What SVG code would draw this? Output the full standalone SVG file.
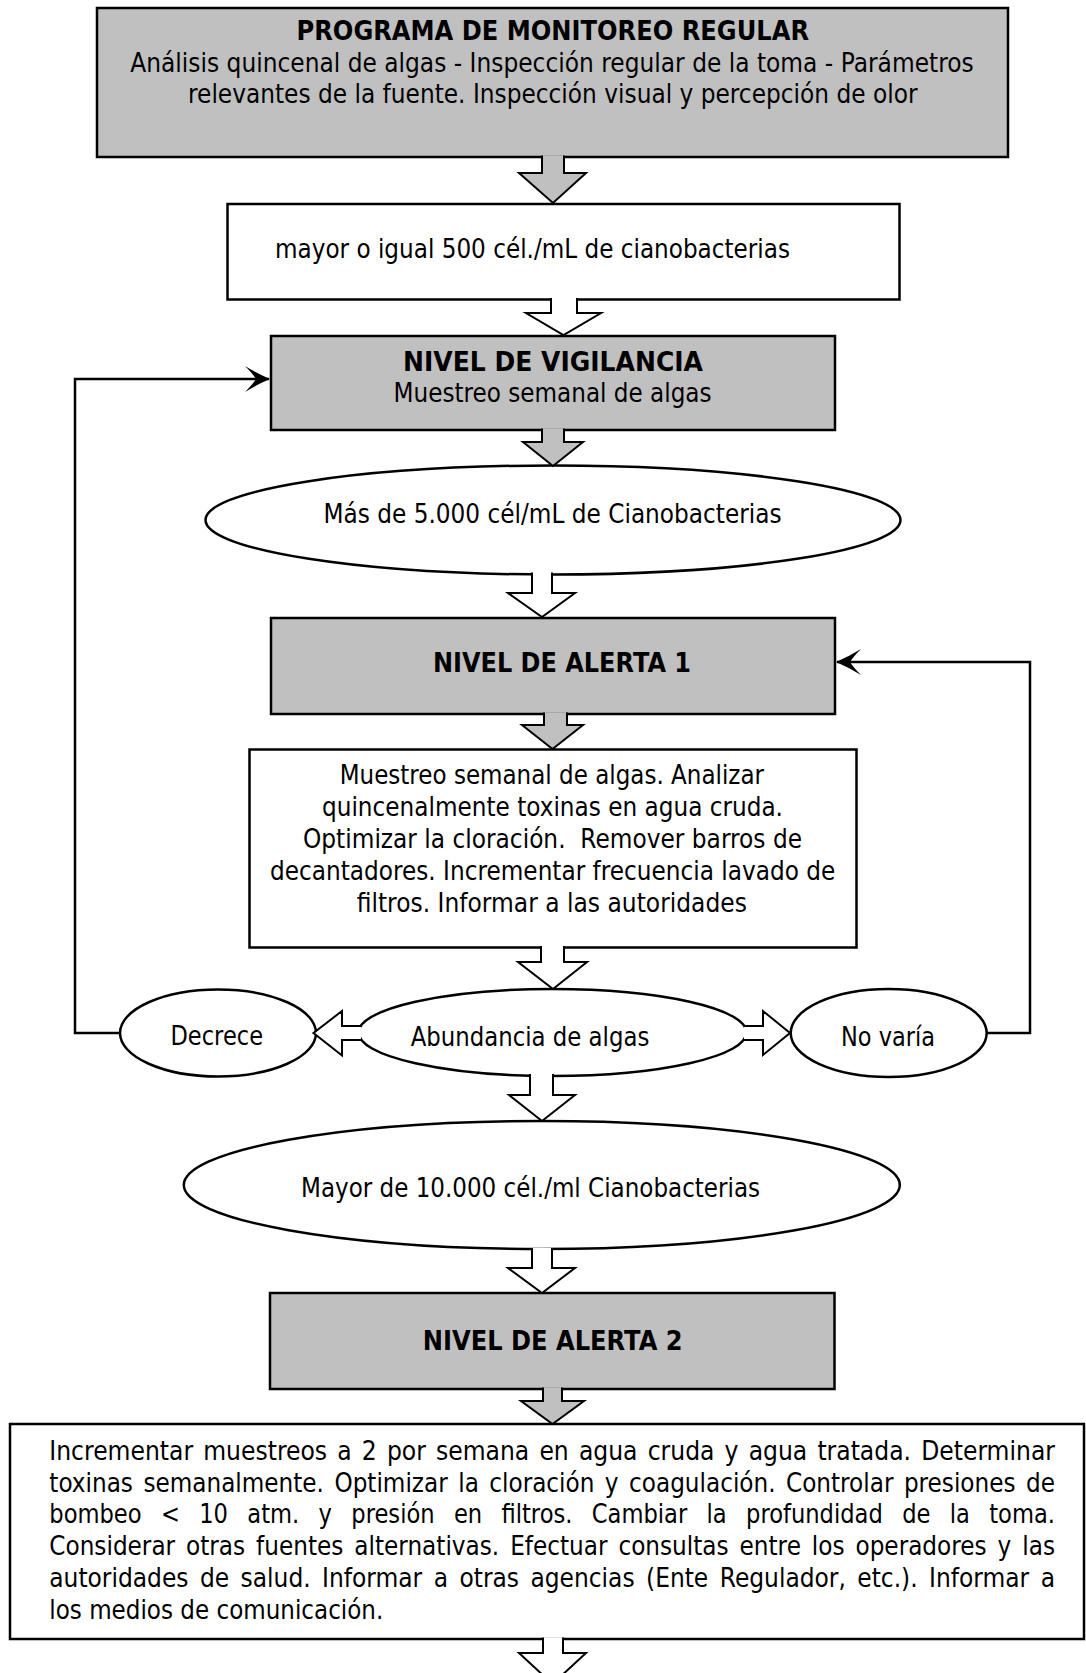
<svg xmlns="http://www.w3.org/2000/svg" width="1086" height="1673" viewBox="0 0 1086 1673">
<style>
text{font-family:"DejaVu Sans","Verdana",sans-serif;font-size:26px;fill:#000}
.b{font-weight:bold}
.box{stroke:#000;stroke-width:2.5}
.g{fill:#c0c0c0}
.w{fill:#fff}
.ba{stroke:#000;stroke-width:2;stroke-linejoin:miter}
.ln{fill:none;stroke:#000;stroke-width:2.5}
</style>
<defs>
<marker id="ah" viewBox="-26 -14 28 28" refX="0" refY="0" markerWidth="28" markerHeight="28" markerUnits="userSpaceOnUse" orient="auto">
<path d="M1,0 Q-11,-5 -24,-13 Q-16,-5 -13,0 Q-16,5 -24,13 Q-11,5 1,0 Z" fill="#000"/>
</marker>
</defs>
<rect width="1086" height="1673" fill="#fff"/>

<g id="programa">
<rect class="box g" x="97" y="8" width="911" height="149"/>
<text class="b" x="296.5" y="40" textLength="512.5" lengthAdjust="spacingAndGlyphs">PROGRAMA DE MONITOREO REGULAR</text>
<text x="130.3" y="71.5" textLength="843.4" lengthAdjust="spacingAndGlyphs">Análisis quincenal de algas - Inspección regular de la toma - Parámetros</text>
<text x="188" y="102.5" textLength="729.5" lengthAdjust="spacingAndGlyphs">relevantes de la fuente. Inspección visual y percepción de olor</text>
</g>

<g id="umbral500">
<rect class="box w" x="227.5" y="204" width="672" height="95.5"/>
<text x="275" y="258" textLength="515" lengthAdjust="spacingAndGlyphs">mayor o igual 500 cél./mL de cianobacterias</text>
</g>

<g id="vigilancia">
<rect class="box g" x="271" y="336" width="564" height="94"/>
<text class="b" x="403" y="370.5" textLength="300" lengthAdjust="spacingAndGlyphs">NIVEL DE VIGILANCIA</text>
<text x="393.6" y="401.5" textLength="318" lengthAdjust="spacingAndGlyphs">Muestreo semanal de algas</text>
</g>

<g id="umbral5000">
<ellipse class="box w" cx="553" cy="520" rx="347.5" ry="54.5"/>
<text x="323.5" y="523" textLength="458" lengthAdjust="spacingAndGlyphs">Más de 5.000 cél/mL de Cianobacterias</text>
</g>

<g id="alerta1">
<rect class="box g" x="271" y="618" width="564" height="96"/>
<text class="b" x="433" y="671.5" textLength="258" lengthAdjust="spacingAndGlyphs">NIVEL DE ALERTA 1</text>
</g>

<g id="acciones1">
<rect class="box w" x="249.5" y="749.5" width="607" height="198"/>
<text x="339.7" y="784" textLength="424.3" lengthAdjust="spacingAndGlyphs">Muestreo semanal de algas. Analizar</text>
<text x="322" y="816" textLength="461" lengthAdjust="spacingAndGlyphs">quincenalmente toxinas en agua cruda.</text>
<text x="303" y="848" textLength="499" lengthAdjust="spacingAndGlyphs" xml:space="preserve">Optimizar la cloración.  Remover barros de</text>
<text x="270" y="880" textLength="565.3" lengthAdjust="spacingAndGlyphs">decantadores. Incrementar frecuencia lavado de</text>
<text x="356.7" y="911.5" textLength="390.2" lengthAdjust="spacingAndGlyphs">filtros. Informar a las autoridades</text>
</g>

<g id="decrece">
<ellipse class="box w" cx="218" cy="1033" rx="98" ry="43.5"/>
<text x="170.5" y="1045" textLength="92.5" lengthAdjust="spacingAndGlyphs">Decrece</text>
</g>

<g id="abundancia">
<ellipse class="box w" cx="552.5" cy="1032.5" rx="194" ry="43.5"/>
<text x="410.7" y="1046" textLength="238.6" lengthAdjust="spacingAndGlyphs">Abundancia de algas</text>
</g>

<g id="novaria">
<ellipse class="box w" cx="888.7" cy="1033" rx="98" ry="44"/>
<text x="841" y="1046" textLength="94" lengthAdjust="spacingAndGlyphs">No varía</text>
</g>

<g id="umbral10000">
<ellipse class="box w" cx="541.8" cy="1185" rx="358" ry="64"/>
<text x="301" y="1197" textLength="459" lengthAdjust="spacingAndGlyphs">Mayor de 10.000 cél./ml Cianobacterias</text>
</g>

<g id="alerta2">
<rect class="box g" x="270" y="1293" width="564.5" height="96"/>
<text class="b" x="422.7" y="1350" textLength="260" lengthAdjust="spacingAndGlyphs">NIVEL DE ALERTA 2</text>
</g>

<g id="acciones2">
<rect class="box w" x="10" y="1424" width="1074" height="215"/>
<g transform="translate(49.3 0) scale(0.88 1)">
<text x="0" y="1460" textLength="1142.8" lengthAdjust="spacingAndGlyphs" word-spacing="3">Incrementar muestreos a 2 por semana en agua cruda y agua tratada. Determinar</text>
<text x="0" y="1491.7" textLength="1142.8" lengthAdjust="spacingAndGlyphs" word-spacing="3.5">toxinas semanalmente. Optimizar la cloración y coagulación. Controlar presiones de</text>
<text x="0" y="1523.4" textLength="1142.8" lengthAdjust="spacingAndGlyphs" word-spacing="14">bombeo &lt; 10 atm. y presión en filtros. Cambiar la profundidad de la toma.</text>
<text x="0" y="1555.1" textLength="1142.8" lengthAdjust="spacingAndGlyphs" word-spacing="4">Considerar otras fuentes alternativas. Efectuar consultas entre los operadores y las</text>
<text x="0" y="1586.8" textLength="1142.8" lengthAdjust="spacingAndGlyphs" word-spacing="4.5">autoridades de salud. Informar a otras agencias (Ente Regulador, etc.). Informar a</text>
</g>
<text x="49.3" y="1618.5" textLength="334" lengthAdjust="spacingAndGlyphs">los medios de comunicación.</text>
</g>

<g id="connectors">
<path class="ba g" d="M542,155.5 V173 H519 L553,203 L586,173 H564 V155.5"/>
<path class="ba w" d="M551,298 V313 H526 L563.5,335 L601,313 H577 V298"/>
<path class="ba g" d="M542,428.5 V442 H523 L553,466 L583,442 H564 V428.5"/>
<path class="ba w" d="M532,572.5 V593 H508 L542,617 L575,593 H552 V572.5"/>
<path class="ba g" d="M544,712.5 V725 H522 L552.5,749 L583,725 H567 V712.5"/>
<path class="ba w" d="M541,946 V962 H518 L553,989 L587,962 H564 V946"/>
<path class="ba w" d="M530,1074 V1095 H509 L542,1121 L575,1095 H553 V1074"/>
<path class="ba w" d="M532,1248 V1268 H508 L542,1293 L575,1268 H552 V1248"/>
<path class="ba g" d="M543,1387.5 V1401 H521 L552.5,1424 L584,1401 H562 V1387.5"/>
<path class="ba w" d="M543,1637.5 V1653 H519 L552.5,1684 L586,1653 H563 V1637.5"/>
<path class="ba w" d="M361,1026 H342 V1011 L313.5,1033 L342,1055.5 V1040 H361"/>
<path class="ba w" d="M744,1026 H763 V1011 L790,1033 L763,1055 V1040 H744"/>
<path class="ln" d="M120,1033 H75 V379 H269" marker-end="url(#ah)"/>
<path class="ln" d="M986.7,1033 H1030 V662 H837" marker-end="url(#ah)"/>
</g>
</svg>
